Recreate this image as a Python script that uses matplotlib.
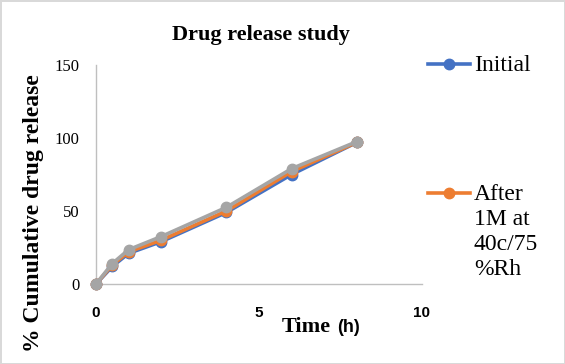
import matplotlib
matplotlib.use("Agg")
import matplotlib.pyplot as plt
from matplotlib.lines import Line2D

# sampling times (h) and % cumulative release per batch
time_h = [0, 0.5, 1, 2, 4, 6, 8]
initial = [0, 12, 21, 29, 49, 75, 97]
after_1m = [0, 13, 22, 30, 50, 77, 97]
third = [0, 14, 23.5, 32.5, 52.5, 79, 97.5]

series_names = ["Initial", "After\n1M at\n40c/75\n%Rh"]
colors = ["#4472C4", "#ED7D31", "#A5A5A5"]
x_ticks = [0, 5, 10]
y_ticks = [0, 50, 100, 150]

serif = "Liberation Serif"
sans = "Liberation Sans"

fig = plt.figure(figsize=(5.65, 3.64), dpi=100)
fig.patch.set_edgecolor("#d9d9d9"); fig.patch.set_linewidth(2)
ax = fig.add_axes([96 / 565, 80 / 364, 326 / 565, 219 / 364])

for ys, c in zip([initial, after_1m, third], colors):
    ax.plot(time_h, ys, color=c, lw=2.6, marker="o", ms=7.5, solid_capstyle="round",
            zorder=3, clip_on=False)

ax.set_xlim(0, 10); ax.set_ylim(0, 150)
ax.set_xticks(x_ticks); ax.set_yticks(y_ticks)
for s in ("top", "right"):
    ax.spines[s].set_visible(False)
for s in ("left", "bottom"):
    ax.spines[s].set_color("#bfbfbf"); ax.spines[s].set_linewidth(1)
ax.tick_params(length=0)
ax.tick_params(axis="y", pad=12)
ax.tick_params(axis="x", pad=16)
for t in ax.get_yticklabels():
    t.set_fontfamily(serif); t.set_fontsize(12)
for t in ax.get_xticklabels():
    t.set_fontfamily(sans); t.set_fontsize(11); t.set_fontweight("bold")

fig.text(260.5 / 565, 1 - 35 / 364, "Drug release study", ha="center", va="center",
         family=serif, fontsize=16, fontweight="bold")
fig.text(34 / 565, 1 - 213 / 364, "% Cumulative drug release", ha="center", va="center",
         rotation=90, family=serif, fontsize=17, fontweight="bold")
fig.text(282 / 565, 1 - 327 / 364, "Time", ha="left", va="center",
         family=serif, fontsize=16, fontweight="bold")
fig.text(337 / 565, 1 - 327 / 364, "(h)", ha="left", va="center",
         family=sans, fontsize=13, fontweight="bold")

# legend drawn by hand (Excel style, wrapped second label, gray series off-frame)
for name, c, yc in zip(series_names, colors, [64, 193]):
    yf = 1 - yc / 364
    fig.add_artist(Line2D([428 / 565, 470 / 565], [yf, yf], color=c, lw=2.6))
    fig.add_artist(Line2D([449 / 565], [yf], color=c, marker="o", ms=7.5, lw=0))
    fig.text(474 / 565, 1 - (yc - 9) / 364, name, ha="left", va="top", family=serif,
             fontsize=17, linespacing=1.25)

fig.savefig("out.png", dpi=100, edgecolor=fig.get_edgecolor())
